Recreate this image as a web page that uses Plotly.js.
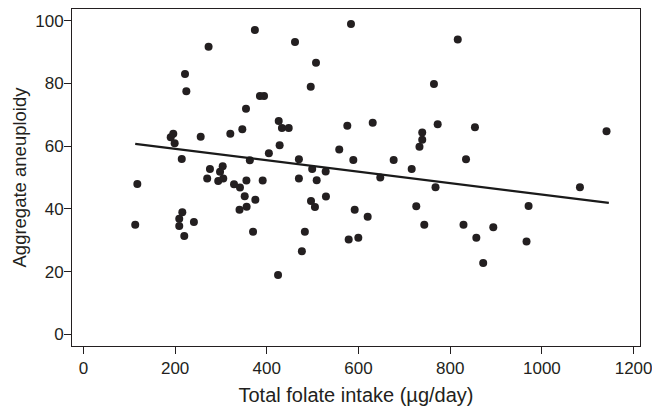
<!DOCTYPE html>
<html>
<head>
<meta charset="utf-8">
<script src="https://cdn.plot.ly/plotly-3.0.1.min.js"></script>
<style>
  html, body { margin: 0; padding: 0; background: #fff; }
  #chart { width: 652px; height: 412px; }
</style>
</head>
<body>
<div id="chart"></div>
<script>
// Total folate intake (µg/day)
var folate = [
  113, 117.6, 190.4, 196, 199, 209, 209, 215.7, 220, 214.5,
  221.6, 224.5, 241, 255.8, 270, 273, 276, 294, 298, 303.8,
  305, 320.4, 328.5, 341.5, 346.6, 340.5, 351.8, 354.6, 355.5, 356,
  363, 370, 374, 375, 385, 394, 391, 404.5, 424.5, 426,
  428, 433, 447.8, 461.5, 470, 470, 476.5, 483, 495.8, 496.4,
  499, 505, 507.3, 508.8, 528.4, 529, 558, 575.6, 578.6, 583.6,
  588.7, 591.7, 599.6, 620, 631, 647.5, 676.7, 716, 726, 733,
  739, 739, 743.5, 764.6, 768, 772.7, 816.5, 829, 834.5, 854,
  857, 872, 894, 966.5, 971, 1083, 1141
];
// Aggregate aneuploidy
var aneuploidy = [
  34.9, 47.9, 62.8, 63.9, 60.9, 36.8, 34.5, 38.9, 31.3, 55.9,
  83.0, 77.5, 35.8, 63.0, 49.7, 91.7, 52.7, 48.9, 51.8, 53.6,
  49.7, 63.9, 47.8, 46.8, 65.4, 39.7, 44.0, 71.9, 49.0, 40.7,
  55.5, 32.7, 97.0, 42.9, 76.0, 76.0, 49.0, 57.7, 18.9, 68.0,
  60.3, 65.8, 65.8, 93.2, 55.8, 49.7, 26.5, 32.7, 78.9, 42.5,
  52.7, 40.6, 86.6, 49.1, 51.9, 43.9, 58.9, 66.5, 30.2, 98.9,
  55.6, 39.7, 30.8, 37.5, 67.4, 50.0, 55.6, 52.7, 40.8, 59.8,
  62.0, 64.3, 34.9, 79.8, 46.9, 67.0, 94.0, 34.9, 55.8, 66.0,
  30.8, 22.7, 34.1, 29.6, 40.9, 46.9, 64.7
];
// Fitted regression line (end points)
var fitX = [113, 1146];
var fitY = [60.7, 41.9];

var xTicks = [0, 200, 400, 600, 800, 1000, 1200];
var yTicks = [0, 20, 40, 60, 80, 100];

var FONT = '"Liberation Sans", Arial, Helvetica, sans-serif';

var traces = [
  {
    x: folate, y: aneuploidy,
    type: 'scatter', mode: 'markers',
    marker: { color: '#231f20', size: 8, line: { width: 0 } },
    hoverinfo: 'x+y', showlegend: false
  },
  {
    x: fitX, y: fitY,
    type: 'scatter', mode: 'lines',
    line: { color: '#1a1a1a', width: 2.3 },
    hoverinfo: 'skip', showlegend: false
  }
];

var layout = {
  width: 652, height: 412,
  margin: { l: 72, r: 12, t: 9, b: 66, pad: 0 },
  paper_bgcolor: '#ffffff',
  plot_bgcolor: '#ffffff',
  font: { family: FONT, color: '#231f20', size: 17 },
  showlegend: false,
  xaxis: {
    range: [-24.9, 1214],
    tickmode: 'array', tickvals: xTicks, ticktext: xTicks.map(String),
    ticks: 'outside', ticklen: 7, tickwidth: 1, tickcolor: '#231f20',
    showline: true, linecolor: '#231f20', linewidth: 1, mirror: true,
    showgrid: false, zeroline: false,
    ticklabeloverflow: 'allow',
    tickfont: { family: FONT, size: 17, color: '#231f20' },
    title: { text: 'Total folate intake (\u00b5g/day)', font: { family: FONT, size: 20, color: '#231f20' }, standoff: 10 }
  },
  yaxis: {
    range: [-3.73, 103.7],
    tickmode: 'array', tickvals: yTicks, ticktext: yTicks.map(String),
    ticks: 'outside', ticklen: 7, tickwidth: 1, tickcolor: '#231f20',
    showline: true, linecolor: '#231f20', linewidth: 1, mirror: true,
    showgrid: false, zeroline: false,
    ticklabelstandoff: -3,
    ticklabeloverflow: 'allow',
    tickfont: { family: FONT, size: 17, color: '#231f20' },
    title: { text: 'Aggregate aneuploidy', font: { family: FONT, size: 18.5, color: '#231f20' }, standoff: 3 }
  }
};

Plotly.newPlot('chart', traces, layout, { displayModeBar: false, staticPlot: true });
</script>
</body>
</html>
